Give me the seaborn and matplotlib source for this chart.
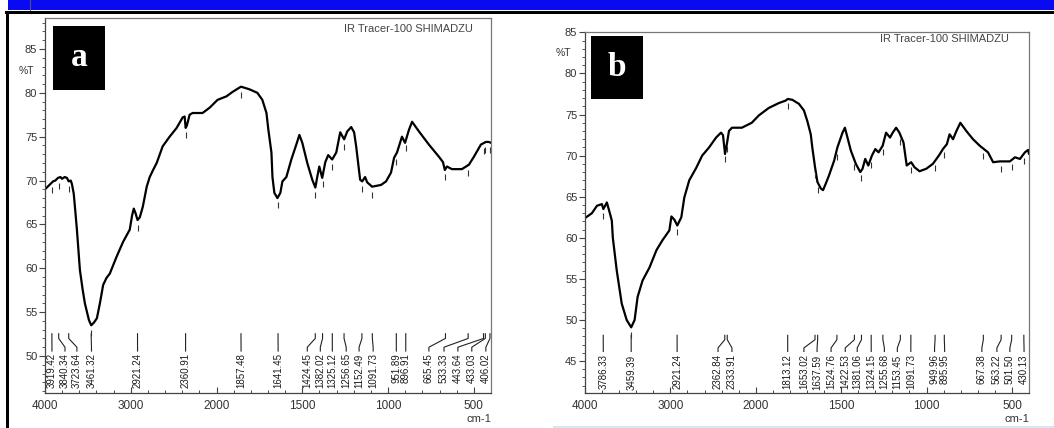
import numpy as np
import pandas as pd
import matplotlib
matplotlib.use("Agg")
import matplotlib.pyplot as plt
import seaborn as sns
from matplotlib.patches import Rectangle
from matplotlib.lines import Line2D
from matplotlib import font_manager

# ---------------- data ----------------
wn_a = [4000, 3907, 3880, 3849, 3820, 3802, 3770, 3744, 3723, 3700, 3686, 3665, 3651,
        3628, 3593, 3560, 3535, 3488, 3461, 3430, 3395, 3360, 3322, 3283, 3244, 3166,
        3090, 3012, 2985, 2965, 2945, 2921, 2895, 2860, 2814, 2779, 2740, 2698, 2628,
        2547, 2465, 2395, 2372, 2360, 2345, 2314, 2279, 2163, 2081, 1994, 1942, 1907,
        1866, 1857, 1808, 1762, 1733, 1709, 1698, 1680, 1674, 1663, 1645, 1628, 1616,
        1593, 1564, 1535, 1517, 1500, 1471, 1442, 1424, 1413, 1401, 1384, 1366, 1349,
        1326, 1302, 1279, 1256, 1238, 1215, 1198, 1186, 1163, 1151, 1134, 1122, 1093,
        1041, 1012, 983, 965, 948, 919, 901, 878, 860, 820, 762, 703, 680, 669, 657,
        628, 570, 529, 500, 459, 430, 413, 400]
T_a = [69.0, 69.9, 70.0, 70.3, 70.4, 70.2, 70.4, 70.3, 69.9, 70.0, 69.6, 68.5, 67.0,
       64.4, 59.8, 57.5, 56.0, 54.1, 53.5, 53.8, 54.3, 56.0, 58.1, 58.9, 59.4, 61.3,
       63.0, 64.4, 66.0, 66.8, 66.3, 65.5, 65.8, 67.0, 69.3, 70.4, 71.2, 72.0, 73.9,
       75.0, 76.0, 77.2, 77.3, 76.0, 76.3, 77.5, 77.7, 77.7, 78.3, 79.2, 79.6, 80.1,
       80.6, 80.7, 80.4, 80.0, 79.2, 77.7, 75.8, 73.2, 70.4, 68.6, 68.0, 68.6, 69.9,
       70.4, 72.4, 74.1, 75.2, 74.3, 72.0, 70.1, 69.2, 70.4, 71.6, 70.3, 72.1, 72.9,
       72.4, 73.2, 75.5, 74.7, 75.6, 76.1, 75.5, 73.9, 70.1, 69.9, 70.4, 69.8, 69.3,
       69.5, 69.9, 70.9, 72.6, 73.2, 75.0, 74.3, 75.8, 76.7, 75.6, 74.1, 72.7, 72.1,
       71.2, 71.6, 71.3, 71.3, 71.8, 72.7, 74.1, 74.4, 74.4, 74.3]

wn_b = [4000, 3919, 3860, 3802, 3785, 3744, 3709, 3686, 3674, 3628, 3570, 3512, 3459,
        3419, 3384, 3326, 3244, 3163, 3093, 3012, 2988, 2953, 2919, 2872, 2837, 2779,
        2698, 2628, 2547, 2465, 2407, 2384, 2360, 2337, 2314, 2279, 2163, 2047, 1982,
        1924, 1865, 1825, 1813, 1786, 1747, 1718, 1698, 1678, 1669, 1653, 1639, 1619,
        1606, 1590, 1571, 1541, 1522, 1492, 1478, 1463, 1443, 1414, 1388, 1375, 1359,
        1341, 1320, 1300, 1281, 1257, 1237, 1214, 1198, 1178, 1159, 1135, 1116, 1090,
        1071, 1041, 1002, 963, 928, 904, 881, 865, 845, 825, 802, 767, 728, 688, 640,
        610, 571, 512, 482, 453, 424, 405, 400]
T_b = [62.4, 63.0, 63.9, 64.1, 63.5, 64.3, 63.0, 62.1, 60.0, 56.0, 52.0, 50.0, 49.1,
       50.0, 52.8, 54.8, 56.4, 58.5, 59.7, 60.9, 62.6, 62.2, 61.5, 62.5, 64.9, 67.0,
       68.5, 70.0, 71.0, 72.2, 72.8, 72.5, 70.2, 71.5, 73.0, 73.4, 73.4, 74.0, 74.9,
       75.8, 76.4, 76.7, 76.9, 76.8, 76.3, 75.5, 74.2, 72.6, 71.0, 68.6, 66.8, 66.0,
       65.8, 66.6, 67.6, 69.4, 71.0, 72.8, 73.4, 72.2, 70.6, 69.0, 68.0, 68.4, 69.6,
       68.8, 70.0, 70.8, 70.4, 71.2, 72.8, 72.2, 72.8, 73.4, 72.8, 71.6, 68.8, 69.2,
       68.6, 68.1, 68.4, 69.0, 70.0, 70.8, 71.4, 72.6, 72.0, 73.0, 74.0, 73.0, 72.0,
       71.2, 70.4, 69.2, 69.3, 69.3, 69.8, 69.6, 70.4, 70.7, 70.2]

peaks_a = [3919.42, 3840.34, 3723.64, 3461.32, 2921.24, 2360.91, 1857.48, 1641.45,
           1424.45, 1382.02, 1325.12, 1256.65, 1152.49, 1091.73, 951.89, 896.91,
           665.45, 533.33, 443.64, 433.03, 406.02]
peaks_b = [3786.33, 3459.39, 2921.24, 2362.84, 2333.91, 1813.12, 1653.02, 1637.59,
           1524.76, 1422.53, 1381.06, 1324.15, 1255.68, 1153.45, 1091.73, 949.96,
           895.95, 667.38, 563.22, 501.50, 430.13]

# where the rotated peak labels sit (layout)
labpos_a = [3919, 3767, 3628, 3458, 2921, 2361, 1857, 1641, 1471, 1395, 1325, 1244,
            1169, 1087, 952, 897, 762, 674, 593, 512, 430]
labpos_b = [3786, 3459, 2921, 2442, 2279, 1813, 1718, 1641, 1559, 1476, 1406, 1324,
            1247, 1171, 1092, 953, 894, 676, 588, 512, 429]

yticks_a = [50, 55, 60, 65, 70, 75, 80, 85]
yticks_b = [45, 50, 55, 60, 65, 70, 75, 80, 85]
xticks = [4000, 3000, 2000, 1500, 1000, 500]
xticklabels = ["4000", "3000", "2000", "1500", "1000", "500"]

# ---------------- style ----------------
sns.set_style("ticks")
plt.rcParams["font.family"] = ["Liberation Sans", "DejaVu Sans"]

W, H = 1054, 428
fig = plt.figure(figsize=(W / 100, H / 100), dpi=100)


def fwd(x):
    x = np.asarray(x, dtype=float)
    return np.where(x > 2000, 2000 + (x - 2000) / 2.0, x)


def inv(y):
    y = np.asarray(y, dtype=float)
    return np.where(y > 2000, 2000 + (y - 2000) * 2.0, y)


TXT = "#333333"
_names = {f.name for f in font_manager.fontManager.ttflist}
if "Liberation Sans Narrow" in _names:
    LABFAM = ["Liberation Sans Narrow", "DejaVu Sans"]
    LABSIZE = 8.0
else:
    LABFAM = ["Liberation Sans", "DejaVu Sans"]
    LABSIZE = 7.0


def make_panel(rect, wn, T, ylim, yticks, peaks, labpos, conn, ttop, letter, box,
               shim_xy, pct_xy, cm_xy):
    ax = fig.add_axes(rect)
    df = pd.DataFrame({"wn": wn, "T": T})
    sns.lineplot(data=df, x="wn", y="T", ax=ax, color="black", lw=1.6,
                 estimator=None, sort=False)
    ax.set_xscale("function", functions=(fwd, inv))
    ax.set_xlim(4000, 400)
    ax.set_ylim(*ylim)
    ax.set_xlabel("")
    ax.set_ylabel("")

    # ticks
    ax.set_xticks(xticks, labels=xticklabels)
    minors = [v for v in list(range(3800, 2000, -200)) + list(range(1900, 399, -100))
              if v not in xticks]
    ax.set_xticks(minors, minor=True)
    ax.set_yticks(yticks, labels=[str(v) for v in yticks])
    ax.set_yticks(np.arange(int(np.ceil(ylim[0])), int(ylim[1]) + 1, 1), minor=True)
    ax.tick_params(axis="x", which="major", direction="in", length=4.5, width=0.8,
                   color="#444444", labelsize=8.5, labelcolor=TXT, pad=5)
    ax.tick_params(axis="x", which="minor", direction="in", length=2.5, width=0.7,
                   color="#444444")
    ax.tick_params(axis="y", which="major", direction="out", length=4.5, width=0.8,
                   color="#444444", labelsize=8, labelcolor=TXT, pad=1)
    ax.tick_params(axis="y", which="minor", direction="out", length=2.2, width=0.6,
                   color="#444444")
    for s in ["top", "right"]:
        ax.spines[s].set_color("#777777")
        ax.spines[s].set_linewidth(0.9)
    for s in ["left", "bottom"]:
        ax.spines[s].set_color("#444444")
        ax.spines[s].set_linewidth(0.9)

    # peak labels + connectors
    top, b1, b2, bot = conn
    for p, lp in zip(peaks, labpos):
        ax.plot([p, p, lp, lp], [top, b1, b2, bot], color="#222222", lw=0.8,
                solid_capstyle="butt")
        ax.text(lp, ttop, f"{p:.2f}", rotation=90, ha="center", va="top",
                fontsize=LABSIZE, color="#1a1a1a", family=LABFAM)
    # small peak marks under the curve
    wr = np.array(wn)[::-1]
    tr = np.array(T)[::-1]
    for p in peaks:
        tv = np.interp(p, wr, tr)
        ax.plot([p], [tv - 0.9], marker="|", markersize=4, color="#333333",
                markeredgewidth=0.8)

    # instrument text, units, axis title
    fig.text(shim_xy[0] / W, 1 - shim_xy[1] / H, "IR Tracer-100 SHIMADZU",
             ha="right", va="center", fontsize=8, color="#444444")
    fig.text(cm_xy[0] / W, 1 - cm_xy[1] / H, "cm-1", ha="right", va="center",
             fontsize=8, color=TXT)
    fig.text(pct_xy[0] / W, 1 - pct_xy[1] / H, "%T", ha="right", va="center",
             fontsize=7.5, color=TXT)

    # letter box
    x0, y0, x1, y1 = box
    fig.add_artist(Rectangle((x0 / W, 1 - y1 / H), (x1 - x0) / W, (y1 - y0) / H,
                             transform=fig.transFigure, facecolor="black",
                             edgecolor="none", zorder=5))
    fig.text((x0 + x1) / 2 / W, 1 - (y0 + y1) / 2 / H, letter, ha="center",
             va="center", color="white", fontsize=24, fontweight="bold",
             family=["Liberation Serif", "DejaVu Serif"], zorder=6)
    return ax


axa = make_panel([45 / W, 1 - 393 / H, 446 / W, 375 / H], wn_a, T_a, (45.78, 88.53),
                 yticks_a, peaks_a, labpos_a, (52.6, 52.0, 51.0, 50.5), 50.3, "a",
                 (53, 26, 105, 90), (473, 29), (34, 71), (491, 419.5))
axb = make_panel([585 / W, 1 - 393 / H, 444 / W, 361 / H], wn_b, T_b, (41.11, 85.05),
                 yticks_b, peaks_b, labpos_b, (48.2, 47.6, 46.6, 46.1), 45.8, "b",
                 (591, 36, 643, 99), (1009, 39), (571, 53), (1029, 419.5))

# page decorations
fig.add_artist(Rectangle((8 / W, 1 - 9.5 / H), (W - 8) / W, 9.5 / H,
                         transform=fig.transFigure, facecolor="#0a0af2", edgecolor="none"))
fig.add_artist(Line2D([30 / W, 30 / W], [1, 1 - 9.5 / H], transform=fig.transFigure,
                      color="#555577", lw=0.8))
fig.add_artist(Rectangle((5 / W, 1 - 14 / H), (W - 5) / W, 3.2 / H,
                         transform=fig.transFigure, facecolor="black", edgecolor="none"))
fig.add_artist(Rectangle((5.5 / W, 0), 3 / W, 1 - 11 / H,
                         transform=fig.transFigure, facecolor="black", edgecolor="none"))
fig.add_artist(Rectangle((553 / W, 0), (W - 553) / W, 2.5 / H,
                         transform=fig.transFigure, facecolor="#d6e6f5", edgecolor="none"))

fig.savefig("out.png", dpi=100)
